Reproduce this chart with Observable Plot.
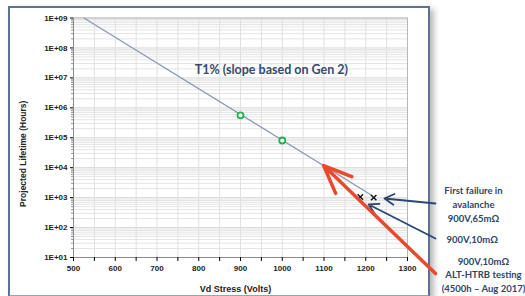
<!DOCTYPE html>
<html>
<head>
<meta charset="utf-8">
<script src="https://cdn.jsdelivr.net/npm/d3@7"></script>
<script src="https://cdn.jsdelivr.net/npm/@observablehq/plot@0.6"></script>
<style>
  html, body { margin: 0; padding: 0; background: #fff; }
  #wrap { position: relative; width: 525px; height: 296px; overflow: hidden; }
  #box { position: absolute; left: 8px; top: 6px; width: 418px; height: 287px;
         border: 2px solid #5d7192; border-bottom-color: #9aa3b0;
         box-shadow: 4px 3px 6px rgba(0,0,0,0.28); background: #fff; }
  #chart { position: absolute; left: 0; top: 0; }
</style>
</head>
<body>
<div id="wrap"><div id="box"></div><div id="chart"></div></div>
<script>
// ---- data ----
const xTicks = [500, 600, 700, 800, 900, 1000, 1100, 1200, 1300];
const xMinorTicks = [550, 650, 750, 850, 950, 1050, 1150, 1250];
const yTicks = [1e1, 1e2, 1e3, 1e4, 1e5, 1e6, 1e7, 1e8, 1e9];
const yTickLabels = ["1E+01", "1E+02", "1E+03", "1E+04", "1E+05", "1E+06", "1E+07", "1E+08", "1E+09"];

// T1% projection line (slope based on Gen 2)
const lineV = [525, 1215];
const lineH = [1e9, 1175];

// Gen 2 points
const gen2V = [900, 1000];
const gen2H = [5.6e5, 8.1e4];

// failures in avalanche
const failV = [1187, 1219];
const failH = [1050, 1000];

const titleText = "T1% (slope based on Gen 2)";
const titleV = [974];
const titleH = [1.77e7];

// annotations
const annoText = ["First failure in\navalanche\n900V,65mΩ", "900V,10mΩ", "900V,10mΩ\nALT-HTRB testing\n(4500h – Aug 2017)"];
const annoV = [1458, 1455, 1482];
const annoH = [637, 44, 2.8];

// arrows (from annotation -> to target)
const blueFromV = [1367, 1367];
const blueFromH = [637, 43];
const blueToV = [1245, 1207];
const blueToH = [936, 590];
const redFromV = [1367];
const redFromH = [2.9];
const redToV = [1099];
const redToH = [11800];

// ---- build ----
const minorY = [];
yTicks.slice(0, -1).forEach(d => { for (let k = 2; k <= 9; k++) minorY.push(d * k); });

const pts = (xs, ys) => xs.map((x, i) => ({x, y: ys[i]}));
const arrows = (x1, y1, x2, y2) => x1.map((v, i) => ({x1: v, y1: y1[i], x2: x2[i], y2: y2[i]}));

const chart = Plot.plot({
  width: 525,
  height: 296,
  marginLeft: 73,
  marginRight: 118,
  marginTop: 17.5,
  marginBottom: 39,
  style: {background: "transparent", fontFamily: "Liberation Sans, Arial, sans-serif", fontSize: "8px", overflow: "visible"},
  x: {type: "linear", domain: [500, 1300]},
  y: {type: "log", domain: [10, 1e9]},
  marks: [
    Plot.ruleY(minorY, {stroke: "#e4e4e4", strokeWidth: 1}),
    Plot.ruleY(yTicks, {stroke: "#d8d8d8", strokeWidth: 1}),
    Plot.ruleX(xTicks.concat(xMinorTicks), {stroke: "#e0e0e0", strokeWidth: 1}),
    Plot.frame({stroke: "#b8b8b8"}),
    Plot.ruleX([500], {stroke: "#8a8a8a"}),
    Plot.ruleY([10], {stroke: "#8a8a8a"}),
    Plot.axisY(yTicks, {tickFormat: d => yTickLabels[yTicks.indexOf(d)], tickSize: 3, tickPadding: 3, fontWeight: "bold", fontSize: 8, fill: "#222", label: null}),
    Plot.axisY(minorY, {tickFormat: () => "", tickSize: 2, label: null, stroke: "#999"}),
    Plot.axisX(xTicks, {tickFormat: d => String(d), tickSize: 4, tickPadding: 4, fontWeight: "bold", fontSize: 8, fill: "#222", label: null}),
    Plot.axisX(xMinorTicks, {tickSize: 4, tickFormat: () => "", label: null}),
    Plot.text(["Vd Stress (Volts)"], {frameAnchor: "bottom", textAnchor: "middle", dx: -5, dy: 34, fontWeight: "bold", fontSize: 9, fill: "#222"}),
    Plot.text(["Projected Lifetime (Hours)"], {frameAnchor: "left", textAnchor: "middle", rotate: -90, dx: -50, dy: 16, fontWeight: "bold", fontSize: 8.5, fill: "#222"}),
    Plot.line(pts(lineV, lineH), {x: "x", y: "y", stroke: "#8797b3", strokeWidth: 1.2}),
    Plot.dot(pts(gen2V, gen2H), {x: "x", y: "y", r: 3, stroke: "#1db24b", strokeWidth: 1.8, fill: "white"}),
    Plot.dot(pts(failV, failH), {x: "x", y: "y", symbol: "times", r: 2.6, stroke: "#111", strokeWidth: 1.4}),
    Plot.text(titleV.map((v, i) => ({x: v, y: titleH[i], t: titleText})), {x: "x", y: "y", text: "t", fontSize: 12.5, fontFamily: "Lato, Open Sans, sans-serif", fontWeight: "bold", fill: "#354a6e"}),
    Plot.arrow(arrows(blueFromV, blueFromH, blueToV, blueToH), {x1: "x1", y1: "y1", x2: "x2", y2: "y2", stroke: "#2b4675", strokeWidth: 1.8, headLength: 9}),
    Plot.arrow(arrows(redFromV, redFromH, redToV, redToH), {x1: "x1", y1: "y1", x2: "x2", y2: "y2", stroke: "#e9492c", strokeWidth: 3.5, headLength: 13, headAngle: 45}),
    Plot.text(annoV.map((v, i) => ({x: v, y: annoH[i], t: annoText[i]})), {x: "x", y: "y", text: "t", fontSize: 9.5, lineHeight: 1.45, fontFamily: "Lato, Open Sans, sans-serif", fontWeight: "bold", fill: "#2f4468"})
  ]
});
document.getElementById("chart").appendChild(chart);
</script>
</body>
</html>
